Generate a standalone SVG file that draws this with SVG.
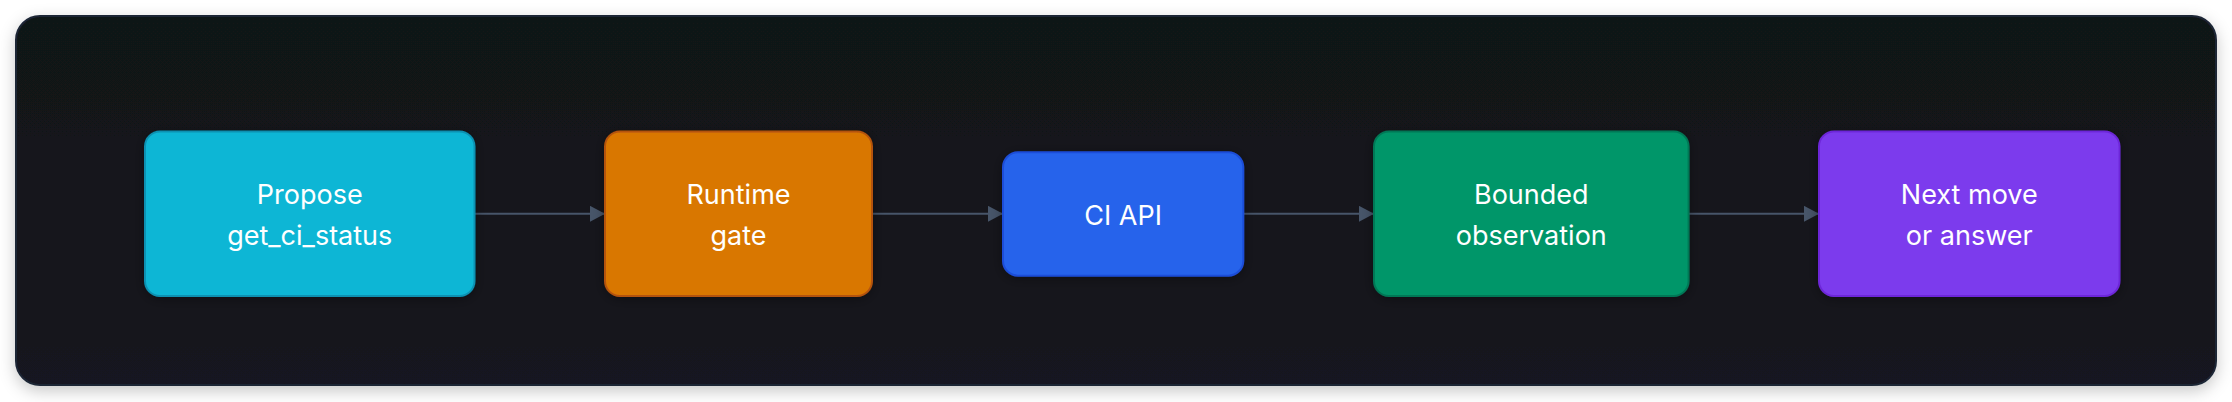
<svg xmlns="http://www.w3.org/2000/svg" width="2232" height="402" viewBox="0 0 2232 402">
  <style>
    .node-text { font-family: Inter, "Noto Sans", "Liberation Sans", sans-serif; font-size: 27px; fill: #ffffff; text-anchor: middle; }
    .edge { stroke: #475569; stroke-width: 2; fill: none; }
    .node rect { stroke-width: 2; }
  </style>
  <defs>
    <linearGradient id="panelGrad" x1="0" y1="0" x2="0" y2="1">
      <stop offset="0" stop-color="#111317"/>
      <stop offset="1" stop-color="#141520"/>
    </linearGradient>
    <filter id="panelShadow" x="-5%" y="-20%" width="110%" height="150%">
      <feDropShadow dx="0" dy="5" stdDeviation="8" flood-color="#000000" flood-opacity="0.22"/>
    </filter>
    <filter id="nodeShadow" x="-20%" y="-30%" width="140%" height="160%">
      <feDropShadow dx="0" dy="2" stdDeviation="6" flood-color="#000000" flood-opacity="0.35"/>
    </filter>
    <marker id="arrow" viewBox="0 0 15 16" refX="15" refY="8" markerWidth="15" markerHeight="16" markerUnits="userSpaceOnUse" orient="auto">
      <path d="M0,0 L15,8 L0,16 Z" fill="#475569"/>
    </marker>
  </defs>

  <rect x="0" y="0" width="2232" height="402" fill="#ffffff"/>
  <rect id="panel" x="16" y="16" width="2200" height="369" rx="24" ry="24" fill="url(#panelGrad)" stroke="#1e2636" stroke-width="2" filter="url(#panelShadow)"/>

  <g id="connectors">
    <line class="edge" x1="474.5" y1="213.8" x2="605" y2="213.8" marker-end="url(#arrow)"/>
    <line class="edge" x1="872" y1="213.8" x2="1003" y2="213.8" marker-end="url(#arrow)"/>
    <line class="edge" x1="1243.3" y1="213.8" x2="1374" y2="213.8" marker-end="url(#arrow)"/>
    <line class="edge" x1="1688.6" y1="213.8" x2="1819" y2="213.8" marker-end="url(#arrow)"/>
  </g>

  <g id="node-propose" class="node">
    <rect x="145" y="131.5" width="329.5" height="164.5" rx="15" ry="15" fill="#08b6d5" stroke="#0891b2" filter="url(#nodeShadow)"/>
    <text class="node-text" x="309.75" y="204">Propose</text>
    <text class="node-text" x="309.75" y="245">get_ci_status</text>
  </g>

  <g id="node-gate" class="node">
    <rect x="605" y="131.5" width="267" height="164.5" rx="15" ry="15" fill="#d97706" stroke="#b45309" filter="url(#nodeShadow)"/>
    <text class="node-text" x="738.5" y="204">Runtime</text>
    <text class="node-text" x="738.5" y="245">gate</text>
  </g>

  <g id="node-ciapi" class="node">
    <rect x="1003" y="152.3" width="240.3" height="123.4" rx="15" ry="15" fill="#2563eb" stroke="#1d4ed8" filter="url(#nodeShadow)"/>
    <text class="node-text" x="1123.15" y="224.5">CI API</text>
  </g>

  <g id="node-observation" class="node">
    <rect x="1374" y="131.5" width="314.6" height="164.5" rx="15" ry="15" fill="#059669" stroke="#047857" filter="url(#nodeShadow)"/>
    <text class="node-text" x="1531.3" y="204">Bounded</text>
    <text class="node-text" x="1531.3" y="245">observation</text>
  </g>

  <g id="node-next" class="node">
    <rect x="1819" y="131.5" width="300.5" height="164.5" rx="15" ry="15" fill="#7c3aed" stroke="#6d28d9" filter="url(#nodeShadow)"/>
    <text class="node-text" x="1969.25" y="204">Next move</text>
    <text class="node-text" x="1969.25" y="245">or answer</text>
  </g>
</svg>
